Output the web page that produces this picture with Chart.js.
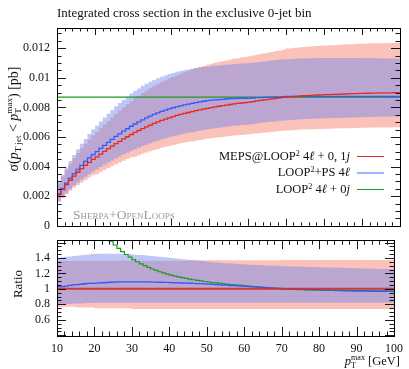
<!DOCTYPE html>
<html>
<head>
<meta charset="utf-8">
<script src="https://cdn.jsdelivr.net/npm/chart.js@4.4.1/dist/chart.umd.min.js"></script>
<style>
body { margin: 0; background: #fff; }
#wrap { position: relative; width: 409px; height: 369px; overflow: hidden; font-family: 'Liberation Serif', serif; color: #111; }
canvas { position: absolute; left: 0; }
#top { top: 0; }
#bot { top: 226px; }
.lbl { position: absolute; white-space: nowrap; font-size: 12px; line-height: 1; }
.lbl sup { font-size: 65%; vertical-align: 0.5em; line-height: 0; }
.lbl sub { font-size: 65%; vertical-align: -0.3em; line-height: 0; }
.ss { display: inline-block; vertical-align: -0.3em; font-size: 65%; line-height: 0.95; text-align: left; }
.ss span { display: block; }
.rot { transform: translate(-50%, -50%) rotate(-90deg); }
.leg { right: 59px; text-align: right; font-size: 12.5px; }
.swatch { position: absolute; left: 357px; width: 27px; height: 0; }
</style>
</head>
<body>
<div id="wrap">
  <canvas id="top" width="409" height="240"></canvas>
  <canvas id="bot" width="409" height="143"></canvas>

  <div class="lbl" style="left:57px; top:6px; font-size:13px;">Integrated cross section in the exclusive 0-jet bin</div>
  <div class="lbl rot" style="left:14px; top:119px; font-size:14px;">&sigma;(<i>p</i><sub>T jet</sub> &lt; <i>p</i><span class="ss"><span>max</span><span>T</span></span>) [pb]</div>
  <div class="lbl rot" style="left:17px; top:284px; font-size:13px;">Ratio</div>
  <div class="lbl" style="right:9px; top:354px; font-size:12.5px;"><i>p</i><span class="ss"><span>max</span><span>T</span></span> [GeV]</div>
  <div class="lbl" style="left:73px; top:208px; color:#9a9a9a; font-variant:small-caps; font-size:13.5px;">Sherpa+OpenLoops</div>

  <div class="lbl leg" style="top:150px;">MEPS@LOOP<sup>2</sup> 4<i>&#8467;</i> + 0, 1<i>j</i></div>
  <div class="swatch" style="top:156px; border-top:1px solid #e8291c;"></div>
  <div class="lbl leg" style="top:166px;">LOOP<sup>2</sup>+PS 4<i>&#8467;</i></div>
  <div class="swatch" style="top:172px; border-top:2px solid #9fb4ff;"></div>
  <div class="lbl leg" style="top:183px;">LOOP<sup>2</sup> 4<i>&#8467;</i> + 0<i>j</i></div>
  <div class="swatch" style="top:189px; border-top:1px solid #1e9a1e;"></div>
</div>

<script>
// bin edges in GeV
const binEdges = [
  10, 11, 12, 13, 14, 15, 16, 17, 18, 19,
  20, 21, 22, 23, 24, 25, 26, 27, 28, 29,
  30, 31, 32, 33, 34, 35, 36, 37, 38, 39,
  40, 41, 42, 43, 44, 45, 46, 47, 48, 49,
  50, 51, 52, 53, 54, 55, 56, 57, 58, 59,
  60, 61, 62, 63, 64, 65, 66, 67, 68, 69,
  70, 71, 72, 73, 74, 75, 76, 77, 78, 79,
  80, 81, 82, 83, 84, 85, 86, 87, 88, 89,
  90, 91, 92, 93, 94, 95, 96, 97, 98, 99, 100
];

// cross sections, in 1e-3 pb, one per bin
const mepsLoop = [
  2.10, 2.45, 2.78, 3.08, 3.36, 3.62, 3.86, 4.08, 4.29, 4.49,
  4.66, 4.85, 5.03, 5.21, 5.38, 5.55, 5.71, 5.87, 6.02, 6.17,
  6.31, 6.44, 6.57, 6.69, 6.81, 6.92, 7.02, 7.12, 7.21, 7.30,
  7.38, 7.46, 7.53, 7.60, 7.66, 7.72, 7.78, 7.84, 7.89, 7.94,
  7.99, 8.04, 8.08, 8.12, 8.16, 8.20, 8.24, 8.27, 8.30, 8.33,
  8.36, 8.40, 8.44, 8.48, 8.51, 8.55, 8.58, 8.62, 8.65, 8.68,
  8.71, 8.73, 8.75, 8.77, 8.79, 8.80, 8.82, 8.83, 8.84, 8.85,
  8.86, 8.87, 8.88, 8.89, 8.90, 8.91, 8.92, 8.93, 8.94, 8.95,
  8.95, 8.96, 8.97, 8.97, 8.98, 8.98, 8.99, 8.99, 9.00, 9.00
];
const loopPS = [
  2.16, 2.52, 2.88, 3.22, 3.53, 3.82, 4.09, 4.35, 4.59, 4.81,
  5.01, 5.23, 5.43, 5.64, 5.84, 6.04, 6.22, 6.40, 6.56, 6.73,
  6.88, 7.02, 7.16, 7.29, 7.42, 7.53, 7.63, 7.73, 7.82, 7.91,
  7.98, 8.05, 8.11, 8.18, 8.23, 8.28, 8.33, 8.38, 8.42, 8.46,
  8.49, 8.51, 8.53, 8.55, 8.57, 8.59, 8.60, 8.61, 8.62, 8.62,
  8.63, 8.64, 8.66, 8.67, 8.68, 8.70, 8.70, 8.71, 8.72, 8.73,
  8.74, 8.74, 8.74, 8.75, 8.75, 8.75, 8.75, 8.75, 8.75, 8.75,
  8.75, 8.75, 8.75, 8.75, 8.75, 8.75, 8.75, 8.75, 8.75, 8.75,
  8.75, 8.75, 8.75, 8.75, 8.75, 8.74, 8.74, 8.74, 8.74, 8.74
];
const loop0j = [
  8.70, 8.70, 8.70, 8.70, 8.70, 8.70, 8.70, 8.70, 8.70, 8.70,
  8.70, 8.70, 8.70, 8.70, 8.70, 8.70, 8.70, 8.70, 8.70, 8.70,
  8.70, 8.70, 8.70, 8.70, 8.70, 8.70, 8.70, 8.70, 8.70, 8.70,
  8.70, 8.70, 8.70, 8.70, 8.70, 8.70, 8.70, 8.70, 8.70, 8.70,
  8.70, 8.70, 8.70, 8.70, 8.70, 8.70, 8.70, 8.70, 8.70, 8.70,
  8.70, 8.70, 8.70, 8.70, 8.70, 8.70, 8.70, 8.70, 8.70, 8.70,
  8.70, 8.70, 8.70, 8.70, 8.70, 8.70, 8.70, 8.70, 8.70, 8.70,
  8.70, 8.70, 8.70, 8.70, 8.70, 8.70, 8.70, 8.70, 8.70, 8.70,
  8.70, 8.70, 8.70, 8.70, 8.70, 8.70, 8.70, 8.70, 8.70, 8.70
];

// uncertainty bands, as ratio to the MEPS@LOOP2 central value
const mepsBandUp = [
  1.360, 1.360, 1.360, 1.360, 1.360, 1.360, 1.360, 1.360, 1.360, 1.360,
  1.360, 1.360, 1.360, 1.360, 1.360, 1.365, 1.365, 1.365, 1.365, 1.365,
  1.365, 1.365, 1.365, 1.365, 1.365, 1.365, 1.365, 1.365, 1.365, 1.365,
  1.365, 1.365, 1.365, 1.365, 1.365, 1.370, 1.370, 1.370, 1.370, 1.370,
  1.370, 1.370, 1.370, 1.370, 1.370, 1.370, 1.370, 1.370, 1.370, 1.370,
  1.370, 1.370, 1.370, 1.370, 1.370, 1.370, 1.370, 1.370, 1.370, 1.370,
  1.375, 1.375, 1.375, 1.375, 1.375, 1.375, 1.375, 1.375, 1.375, 1.375,
  1.375, 1.375, 1.375, 1.375, 1.375, 1.375, 1.375, 1.375, 1.375, 1.375,
  1.375, 1.375, 1.375, 1.375, 1.375, 1.375, 1.375, 1.375, 1.375, 1.375
];
const mepsBandDown = [
  0.770, 0.770, 0.770, 0.770, 0.770, 0.760, 0.760, 0.760, 0.760, 0.760,
  0.750, 0.750, 0.750, 0.750, 0.750, 0.750, 0.750, 0.750, 0.750, 0.750,
  0.740, 0.740, 0.740, 0.740, 0.740, 0.740, 0.740, 0.740, 0.740, 0.740,
  0.740, 0.740, 0.740, 0.740, 0.740, 0.740, 0.740, 0.740, 0.740, 0.740,
  0.740, 0.740, 0.740, 0.740, 0.740, 0.740, 0.740, 0.740, 0.740, 0.740,
  0.740, 0.740, 0.740, 0.740, 0.740, 0.740, 0.740, 0.740, 0.740, 0.740,
  0.740, 0.740, 0.740, 0.740, 0.740, 0.740, 0.740, 0.740, 0.740, 0.740,
  0.740, 0.740, 0.740, 0.740, 0.740, 0.740, 0.740, 0.740, 0.740, 0.740,
  0.740, 0.740, 0.740, 0.740, 0.740, 0.740, 0.740, 0.740, 0.740, 0.740
];
const psBandUp = [
  1.400, 1.410, 1.415, 1.420, 1.425, 1.430, 1.435, 1.440, 1.445, 1.450,
  1.450, 1.455, 1.455, 1.455, 1.455, 1.455, 1.455, 1.450, 1.450, 1.450,
  1.445, 1.440, 1.440, 1.435, 1.430, 1.425, 1.420, 1.415, 1.410, 1.405,
  1.400, 1.395, 1.390, 1.385, 1.380, 1.375, 1.370, 1.365, 1.360, 1.355,
  1.350, 1.346, 1.342, 1.338, 1.334, 1.330, 1.327, 1.324, 1.321, 1.318,
  1.315, 1.312, 1.310, 1.308, 1.306, 1.304, 1.302, 1.300, 1.298, 1.296,
  1.293, 1.292, 1.290, 1.289, 1.288, 1.286, 1.285, 1.284, 1.282, 1.281,
  1.280, 1.278, 1.277, 1.276, 1.274, 1.273, 1.272, 1.270, 1.269, 1.268,
  1.266, 1.265, 1.264, 1.262, 1.261, 1.260, 1.258, 1.257, 1.256, 1.255
];
const psBandDown = [
  0.800, 0.800, 0.805, 0.805, 0.810, 0.810, 0.812, 0.814, 0.816, 0.818,
  0.820, 0.820, 0.820, 0.820, 0.820, 0.820, 0.820, 0.820, 0.820, 0.820,
  0.820, 0.820, 0.820, 0.820, 0.820, 0.820, 0.820, 0.820, 0.820, 0.820,
  0.820, 0.820, 0.820, 0.820, 0.820, 0.820, 0.820, 0.820, 0.820, 0.820,
  0.820, 0.820, 0.820, 0.820, 0.820, 0.820, 0.820, 0.820, 0.820, 0.820,
  0.820, 0.820, 0.820, 0.820, 0.820, 0.820, 0.820, 0.820, 0.820, 0.820,
  0.820, 0.820, 0.820, 0.820, 0.820, 0.820, 0.820, 0.820, 0.820, 0.820,
  0.820, 0.820, 0.820, 0.820, 0.820, 0.820, 0.820, 0.820, 0.820, 0.820,
  0.820, 0.820, 0.820, 0.820, 0.820, 0.820, 0.820, 0.820, 0.820, 0.820
];

const RED = '#e8291c', BLUE = '#2f5bff', GREEN = '#1e9a1e';
const RED_BAND = 'rgba(245,120,100,0.45)', BLUE_BAND = 'rgba(110,130,240,0.45)';

Chart.defaults.font.family = "'Liberation Serif', serif";
Chart.defaults.font.size = 12;
Chart.defaults.color = '#111';

// histogram as steps: one point per lower edge, plus the closing edge
function steps(vals) {
  const pts = vals.map((v, i) => ({ x: binEdges[i], y: v }));
  pts.push({ x: binEdges[binEdges.length - 1], y: vals[vals.length - 1] });
  return pts;
}
function lineDs(data, color, width, order) {
  return { data: data, borderColor: color, borderWidth: width, pointRadius: 0, stepped: true, fill: false, order: order };
}
// band = upper stepped edge filled down to the next dataset (lower edge)
function bandDs(lo, hi, color, order) {
  const edge = { borderColor: 'rgba(0,0,0,0)', borderWidth: 0, pointRadius: 0, stepped: true, order: order };
  return [
    Object.assign({ data: steps(hi), backgroundColor: color, fill: '+1' }, edge),
    Object.assign({ data: steps(lo), fill: false }, edge)
  ];
}

// inward ticks on all four sides + frame
const frameTicks = {
  id: 'frameTicks',
  afterDraw(chart, args, o) {
    const { ctx, chartArea: a } = chart;
    const xs = chart.scales.x, ys = chart.scales.y;
    ctx.save();
    ctx.strokeStyle = '#000';
    ctx.lineWidth = 0.9;
    ctx.beginPath();
    for (let v = 10; v <= 100; v += 2) {
      const px = Math.round(xs.getPixelForValue(v)) + 0.5;
      const len = v % 10 === 0 ? o.xMajor : o.xMinor;
      ctx.moveTo(px, a.top); ctx.lineTo(px, a.top + len);
      ctx.moveTo(px, a.bottom); ctx.lineTo(px, a.bottom - len);
    }
    for (let k = 0; ; k++) {
      const v = o.yFrom + k * o.yMinor;
      if (v > ys.max) break;
      const r = v / o.yMajor;
      const len = Math.abs(r - Math.round(r)) < 1e-6 ? 9 : 4.5;
      const py = Math.round(ys.getPixelForValue(v)) + 0.5;
      ctx.moveTo(a.left, py); ctx.lineTo(a.left + len, py);
      ctx.moveTo(a.right, py); ctx.lineTo(a.right - len, py);
    }
    ctx.stroke();
    ctx.lineWidth = 1;
    ctx.strokeRect(Math.round(a.left) + 0.5, Math.round(a.top) + 0.5,
                   Math.round(a.right) - Math.round(a.left), Math.round(a.bottom) - Math.round(a.top));
    ctx.restore();
  }
};

const noAxisLines = { display: false, drawTicks: false };

// ---- main panel (values converted to pb) ----
const pb = arr => arr.map(v => v / 1000);
const mepsPb = pb(mepsLoop);
new Chart(document.getElementById('top'), {
  type: 'line',
  data: {
    datasets: [
      lineDs(steps(mepsPb), RED, 1.3, 1),
      lineDs(steps(pb(loopPS)), BLUE, 1.3, 2),
      lineDs(steps(pb(loop0j)), GREEN, 1.2, 3),
      ...bandDs(mepsPb.map((v, i) => v * psBandDown[i]), mepsPb.map((v, i) => v * psBandUp[i]), BLUE_BAND, 4),
      ...bandDs(mepsPb.map((v, i) => v * mepsBandDown[i]), mepsPb.map((v, i) => v * mepsBandUp[i]), RED_BAND, 5)
    ]
  },
  options: {
    responsive: false,
    animation: false,
    layout: { padding: { top: 28, right: 9, bottom: 7, left: 0 } },
    plugins: {
      legend: { display: false },
      tooltip: { enabled: false },
      frameTicks: { xMajor: 7, xMinor: 3.5, yFrom: 0, yMinor: 0.0005, yMajor: 0.002 }
    },
    scales: {
      x: { type: 'linear', min: 10, max: 100, display: false },
      y: {
        min: 0, max: 0.01337,
        afterFit: s => { s.width = 57; },
        grid: noAxisLines,
        border: { display: false },
        ticks: { stepSize: 0.002, includeBounds: false, autoSkip: false, padding: 7,
                 callback: v => String(+v.toFixed(3)) }
      }
    }
  },
  plugins: [frameTicks]
});

// ---- ratio panel (to MEPS@LOOP2) ----
const ratioTo = arr => arr.map((v, i) => v / mepsLoop[i]);
new Chart(document.getElementById('bot'), {
  type: 'line',
  data: {
    datasets: [
      lineDs(steps(ratioTo(mepsLoop)), 'rgba(215,45,35,0.9)', 2, 1),
      lineDs(steps(ratioTo(loopPS)), BLUE, 1.3, 2),
      lineDs(steps(ratioTo(loop0j)), GREEN, 1.2, 3),
      ...bandDs(psBandDown, psBandUp, BLUE_BAND, 4),
      ...bandDs(mepsBandDown, mepsBandUp, RED_BAND, 5)
    ]
  },
  options: {
    responsive: false,
    animation: false,
    layout: { padding: { top: 7, right: 9, bottom: 0, left: 0 } },
    plugins: {
      legend: { display: false },
      tooltip: { enabled: false },
      frameTicks: { xMajor: 9, xMinor: 4.5, yFrom: 0.4, yMinor: 0.05, yMajor: 0.2 }
    },
    scales: {
      x: {
        type: 'linear', min: 10, max: 100,
        afterFit: s => { s.height = 33; },
        grid: noAxisLines,
        border: { display: false },
        ticks: { stepSize: 10, autoSkip: false, padding: 6, maxRotation: 0 }
      },
      y: {
        min: 0.39, max: 1.63,
        afterFit: s => { s.width = 57; },
        grid: noAxisLines,
        border: { display: false },
        ticks: { stepSize: 0.2, includeBounds: false, autoSkip: false, padding: 7,
                 callback: v => (v < 0.5 || v > 1.5) ? '' : String(Math.round(v * 10) / 10) }
      }
    }
  },
  plugins: [frameTicks]
});
</script>
</body>
</html>
